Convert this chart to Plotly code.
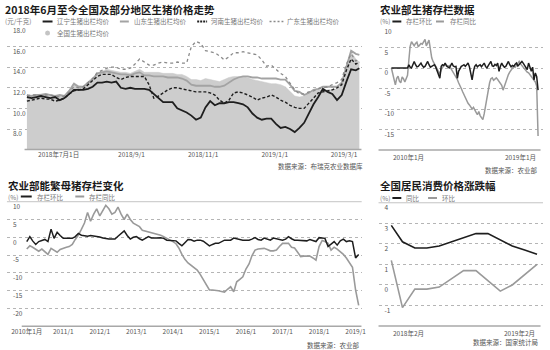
import pandas as pd
import plotly.graph_objects as go

W, H = 550, 350
FONT = "Noto Sans CJK SC"
BLACK = "#1e1e1e"
GRAY = "#9a9a9a"
GRID = "#b5b5b5"
AXIS = "#a8a8a8"
TXT = "#555555"

# ---------------- live hog prices (元/千克), Jun 2018 – Mar 2019 ----------------
price_dates = list(pd.date_range("2018-06-04", periods=71, freq="4D")) + [pd.Timestamp("2019-03-14")]
national = [11.3, 11.3, 11.3, 11.4, 11.4, 11.3, 11.3, 11.3, 11.3,
            11.8, 12.5, 12.2, 12.1, 12.6, 13.0, 13.4, 13.6, 13.8, 13.7, 13.6,
            13.5, 13.5, 13.4, 13.6, 13.8, 13.5, 13.5, 13.5, 13.5, 13.4, 13.4, 13.4, 13.3, 13.3, 13.1,
            12.8, 12.8, 12.7, 12.9, 12.8, 12.7, 12.6, 12.8, 13.0, 13.1, 13.1, 13.1, 13.0, 12.8, 12.7,
            12.6, 12.5, 12.4, 12.4, 12.3,
            12.1, 11.6, 11.2, 11.1, 11.2, 11.4, 11.7, 11.8, 11.8, 11.8, 11.8, 11.9, 12.3, 13.8, 15.5, 14.8, 14.5]
liaoning = [11.1, 11.0, 11.1, 11.2, 11.1, 11.0, 11.1, 10.8, 11.0,
            11.4, 11.8, 11.8, 11.8, 11.9, 12.1, 12.5, 12.5, 12.6, 12.5, 12.6,
            12.0, 11.9, 12.0, 11.9, 11.9, 11.9, 11.8, 11.4, 11.0, 10.6, 10.6, 10.6,
            10.0, 9.8, 9.6, 9.3, 8.9, 9.1, 10.1, 10.7, 10.3, 10.5, 10.5, 10.6, 10.6, 10.5, 10.4, 10.1, 9.5,
            9.1, 8.9, 9.0, 9.0, 8.5, 8.1, 8.2, 8.0, 7.7, 8.1, 8.6, 9.5, 10.4, 11.1, 11.9, 11.6, 11.4,
            10.8, 11.3, 12.6, 13.8, 13.7, 13.9]
shandong = [11.3, 11.2, 11.3, 11.3, 11.4, 11.3, 11.2, 11.3, 11.2,
            11.7, 12.4, 12.1, 12.1, 12.5, 12.8, 13.4, 13.5, 13.6, 13.5, 13.4,
            13.3, 13.3, 13.2, 13.4, 13.5, 13.2, 13.2, 13.1, 13.1, 13.1, 13.0, 13.0, 13.0, 12.9, 12.7,
            12.3, 12.2, 12.2, 12.2, 12.2, 12.1, 12.1, 12.2, 12.5, 12.8, 13.0, 13.1, 13.1, 13.0, 13.0,
            12.9, 12.9, 12.9, 12.9, 12.8,
            12.8, 12.3, 11.7, 11.6, 11.3, 11.5, 11.8, 11.9, 12.1, 12.1, 12.1, 12.1, 12.5, 14.0, 15.6, 15.3, 15.2]
henan = [10.7, 10.8, 10.9, 11.0, 10.9, 10.9, 10.7, 10.8, 11.0,
         11.4, 11.7, 11.8, 11.9, 12.3, 12.7, 13.1, 13.3, 13.3, 13.3, 13.0,
         12.8, 13.0, 13.1, 13.1, 13.1, 13.1, 12.3, 11.0, 11.2, 11.5, 11.8, 12.0, 12.0, 11.9, 11.8,
         11.7, 11.6, 11.6, 11.6, 11.5, 11.3, 10.8, 10.5, 10.8, 11.5,
         11.6, 11.5, 11.3, 11.1, 10.8, 11.0, 11.1, 11.3, 11.1, 10.8, 10.6, 10.3, 10.1, 10.0, 10.0,
         10.5, 11.1, 11.5, 11.6, 11.7, 11.8, 12.0, 12.3, 13.7, 14.8, 14.3, 14.5]
guangdong = [11.2, 11.3, 11.3, 11.2, 11.3, 11.3, 11.2, 11.1, 11.2,
             11.6, 12.1, 12.0, 12.1, 12.5, 12.9, 13.5, 13.7, 13.9, 14.0, 14.0,
             13.8, 13.8, 13.9, 14.3, 14.8, 14.5, 14.2, 14.2, 14.4, 14.5, 14.4, 14.4, 14.5, 14.4, 14.4,
             16.0, 16.5, 16.3, 15.6, 15.5, 15.4, 15.1, 14.7, 15.0, 15.4, 15.4, 15.5, 15.4, 15.3, 15.2,
             14.7, 14.1, 14.2, 13.8, 13.4,
             13.1, 12.4, 11.8, 11.4, 11.4, 11.6, 11.7, 11.9, 12.0, 12.1, 12.3, 12.5, 12.8, 14.3, 15.3, 14.6, 14.8]
price_tick_dates = ["2018-07-01", "2018-09-01", "2018-11-01", "2019-01-01", "2019-03-01"]
price_tick_text = ["2018年7月1日", "2018/9/1", "2018/11/1", "2019/1/1", "2019/3/1"]
price_y_ticks = [8, 10, 12, 14, 16, 18]

# ---------------- hog inventory (%), Jan 2010 – Feb 2019 ----------------
months = pd.date_range("2010-01-01", "2019-02-01", freq="MS")
hog_mom = [0, 0, 0, 0, 0, 0, 0, 0, 0, 0, 0, 0, 0,
           0.8, 0.2, 0.0, 1.0, 1.6, 0.8, 0.3, 0.4, 0.9, 1.2, 0.6, 0.2, 0.4, 1.0, 1.6, 0.8, 0.2,
           0.4, 0.6, 0.8, 0.2, -0.8, -1.5, -2.5, 0.4, 0.8, 0.6, 1.2, 0.5, 0.2, 0.0, 0.6, 1.2,
           0.5, 0.3, 0.4, -2.5, -0.8, 0.0, 0.4, 0.6, 0.8, 0.4, 0.9, 1.2, 0.3, -1.0, -2.9, -0.8,
           0.4, 0.8, 0.3, 0.6, 0.8, 0.3, 0.9, 1.2, 0.4, 0.0, 0.6, 1.0, 1.6, 0.5, 0.4, 0.9, 0.6,
           1.2, -0.8, 0.4, 1.2, 0.6, 0.2, 0.4, 1.0, 1.6, 0.8, 0.3, 0.6, 0.4, 0.9, 1.2, 0.5, 0.8,
           1.2, 1.6, 1.2, 0.6, 0.2, -0.4, 1.2, 0.3, -0.8, 0.2, -2.9, -1.2, -2.1, -5.4]
hog_yoy = [0.0, -1.5, -3.0, -4.1, -2.5, -2.0, -3.2, -3.6, -2.2, -2.6, -3.4, -2.8, -1.8,
           2.0, 5.3, 6.4, 5.8, 5.4, 6.0, 6.3, 5.2, 5.6, 6.0, 5.8, 6.4, 7.0, 5.4, 6.2, 6.8, 4.6,
           2.5, 1.6, 1.0, 0.6, 0.0, -0.8, -1.5, -0.4, 0.2, 0.6, 1.0, 0.8, 0.4, 0.6, 0.0, -0.4,
           -1.0, -1.4, -2.0, -2.8, -3.6, -4.2, -5.0, -5.8, -6.6, -7.2, -8.0, -8.6, -9.0, -9.4,
           -10.0, -9.6, -10.4, -10.8, -11.4, -10.6, -11.6, -12.0, -12.6, -11.2, -9.0, -7.2, -5.2,
           -3.6, -2.6, -2.4, -3.0, -2.6, -2.4, -2.8, -3.2, -3.6, -4.2, -5.4, -4.4, -3.0, -2.2,
           -1.6, -1.0, -0.6, 0.0, 0.4, 0.2, 0.6, 1.0, 1.6, 1.0, 0.6, 0.0, -0.4, -0.8, -1.0,
           -1.2, -1.6, -2.0, -2.4, -2.8, -3.4, -4.4, -16.6]
hog_y_ticks = [10, 5, 0, -5, -10, -15]

# ---------------- breeding sow inventory (%), Jan 2010 – Feb 2019 ----------------
sow_mom = [-1.2, 0.2, -1.0, -2.0, -1.2, -0.9, -0.6, -1.2, 2.3, -0.3, 1.4, 0.5, -0.3, -0.3,
           -0.3, -0.3, 0.2, 1.1, 0.6, 0.4, 0.3, 0.5, 0.4, 0.2, 0.1, -0.2, -0.4, -0.5, -0.5, -0.5,
           0.3, 1.0, 1.8, 0.5, -0.5, 0.0, 0.2, -0.4, -0.8, -0.3, 0.2, -0.2, -0.3, -0.2, -0.1,
           -0.3, -0.8, -0.8, -0.8, -1.0, -1.7, -2.4, -1.5, -0.6, -0.7, -1.1, -0.8, -0.8, -1.1,
           -1.8, -2.4, -2.0, -1.7, -1.7, -1.3, -0.8, -0.8, -0.8, -0.2, -0.4, -0.8, -0.8, -0.8,
           -0.8, -0.5, -0.1, -0.6, -0.8, -0.2, -0.5, -0.8, -0.2, -0.4, -0.8, -0.8, -0.5, 0.2,
           -0.4, -0.8, -0.8, -0.8, -0.9, -1.0, -0.6, -0.8, -1.2, -0.1, -0.1, -0.3, -2.6, -1.8,
           -1.2, -2.2, -1.0, -0.5, -1.2, -1.0, -1.2, -5.8, -4.8]
sow_yoy = [-3.3, -2.4, -2.8, -3.3, -3.9, -3.3, -4.0, -4.8, -3.1, -3.7, -4.2, -3.4, -3.0,
           -2.8, -2.6, -2.0, -0.6, 0.6, 2.2, 4.0, 7.0, 4.5, 6.5, 8.0, 6.0, 7.5, 9.0, 8.0, 6.5,
           7.0, 8.5, 6.5, 5.0, 6.5, 5.0, 4.0, 3.5, 3.0, 2.0, 1.8, 1.6, 1.4, 1.2, 0.8, 0.6, 0.2,
           -0.2, -0.6, -1.2, -1.8, -3.0, -4.8, -6.2, -7.2, -7.8, -8.4, -9.2, -10.4, -12.0,
           -13.4, -14.8, -14.8, -14.8, -15.0, -15.2, -15.4, -14.6, -13.9, -15.3, -12.5, -11.8,
           -11.1, -8.9, -7.5, -5.2, -3.6, -3.3, -3.2, -3.1, -3.4, -3.8, -3.8, -3.6, -2.6, -1.7,
           -1.7, -1.7, -2.8, -3.0, -4.2, -5.4, -5.3, -5.2, -5.3, -5.8, -6.4, -2.6, -0.9, -1.2,
           -1.7, -3.6, -2.8, -3.3, -4.0, -4.8, -5.8, -7.0, -8.4, -14.8, -19.1]
sow_tick_dates = [f"{y}-01-01" for y in range(2010, 2020)]
sow_tick_text = ["2010年1月"] + [f"{y}/1" for y in range(2011, 2020)]
sow_y_ticks = [10, 5, 0, -5, -10, -15, -20]

# ---------------- CPI (%), Feb 2018 – Feb 2019 ----------------
cpi_months = pd.date_range("2018-02-01", "2019-02-01", freq="MS")
cpi_yoy = [2.9, 2.1, 1.8, 1.8, 1.9, 2.1, 2.3, 2.5, 2.5, 2.2, 1.9, 1.7, 1.5]
cpi_mom = [1.2, -1.1, -0.2, -0.2, -0.1, 0.3, 0.7, 0.7, 0.2, -0.3, 0.0, 0.5, 1.0]
cpi_y_ticks = [4, 3, 2, 1, 0, -1]


def px(x):
    return x / W


def py(y):
    return 1 - y / H


fig = go.Figure()

# price panel
fig.add_trace(go.Scatter(x=price_dates, y=national, mode="lines", fill="tozeroy",
                         fillcolor="#cdcdcd", line=dict(color="#cdcdcd", width=0.5),
                         xaxis="x", yaxis="y"))
fig.add_trace(go.Scatter(x=price_dates, y=shandong, mode="lines",
                         line=dict(color="#a3a3a3", width=1.8), xaxis="x", yaxis="y"))
fig.add_trace(go.Scatter(x=price_dates, y=guangdong, mode="lines",
                         line=dict(color="#8a8a8a", width=1.3, dash="3px,3px"), xaxis="x", yaxis="y"))
fig.add_trace(go.Scatter(x=price_dates, y=henan, mode="lines",
                         line=dict(color=BLACK, width=1.4, dash="3px,2px"), xaxis="x", yaxis="y"))
fig.add_trace(go.Scatter(x=price_dates, y=liaoning, mode="lines",
                         line=dict(color=BLACK, width=1.8), xaxis="x", yaxis="y"))

# hog inventory panel
fig.add_trace(go.Scatter(x=months, y=hog_yoy, mode="lines",
                         line=dict(color=GRAY, width=1.5), xaxis="x2", yaxis="y2"))
fig.add_trace(go.Scatter(x=months, y=hog_mom, mode="lines",
                         line=dict(color=BLACK, width=1.5), xaxis="x2", yaxis="y2"))

# sow inventory panel
fig.add_trace(go.Scatter(x=months, y=sow_yoy, mode="lines",
                         line=dict(color=GRAY, width=1.6), xaxis="x3", yaxis="y3"))
fig.add_trace(go.Scatter(x=months, y=sow_mom, mode="lines",
                         line=dict(color=BLACK, width=1.5), xaxis="x3", yaxis="y3"))

# CPI panel
fig.add_trace(go.Scatter(x=cpi_months, y=cpi_mom, mode="lines",
                         line=dict(color=GRAY, width=1.6), xaxis="x4", yaxis="y4"))
fig.add_trace(go.Scatter(x=cpi_months, y=cpi_yoy, mode="lines",
                         line=dict(color=BLACK, width=1.6), xaxis="x4", yaxis="y4"))


def y_axis(anchor, top, bottom, rng, ticks, text, grid_vals):
    return dict(anchor=anchor, domain=[py(bottom), py(top)], range=rng,
                tickmode="array", tickvals=ticks, ticktext=text,
                ticklabelposition="inside", ticklabelshift=5, ticklabelstandoff=3,
                tickfont=dict(size=6.5, color=TXT, family=FONT),
                showgrid=False, zeroline=False, showline=False, ticks="",
                minor=dict(tickmode="array", tickvals=grid_vals, showgrid=True,
                           gridcolor=GRID, griddash="dot", gridwidth=1, ticks=""))


def x_axis(anchor, left, right, rng, ticks=None, text=None):
    ax = dict(anchor=anchor, domain=[px(left), px(right)], range=rng, type="date",
              showgrid=False, zeroline=False, showline=False, ticks="",
              tickfont=dict(size=6.5, color=TXT, family=FONT))
    if ticks is None:
        ax["showticklabels"] = False
    else:
        ax.update(tickmode="array", tickvals=ticks, ticktext=text)
    return ax


# value ranges are padded a little above the top tick so its label has room
layout = dict(
    width=W, height=H, margin=dict(l=0, r=0, t=0, b=0),
    paper_bgcolor="white", plot_bgcolor="white", showlegend=False,
    font=dict(family=FONT, color=TXT),
    xaxis=x_axis("y", 7, 365, ["2018-05-18", "2019-03-16"], price_tick_dates, price_tick_text),
    yaxis=y_axis("x", 19.8, 149.6, [6, 18.6], price_y_ticks, [f"{v:.1f}" for v in price_y_ticks],
                 [8, 10, 12, 14, 16]),
    xaxis2=x_axis("y2", 382, 548, ["2009-03-16", "2019-05-24"]),
    yaxis2=y_axis("x2", 20.85, 150, [-20, 11.5], hog_y_ticks, [str(v) for v in hog_y_ticks],
                  [5, 0, -5, -10, -15]),
    xaxis3=x_axis("y3", 7, 365, ["2009-06-17", "2019-03-03"], sow_tick_dates, sow_tick_text),
    yaxis3=y_axis("x3", 195.3, 326.3, [-25, 11.8], sow_y_ticks, [str(v) for v in sow_y_ticks],
                  [5, 0, -5, -10, -15, -20]),
    xaxis4=x_axis("y4", 382, 548, ["2017-12-31", "2019-02-16"]),
    yaxis4=y_axis("x4", 196.6, 326.1, [-2, 4.3], cpi_y_ticks, [str(v) for v in cpi_y_ticks],
                  [3, 2, 1, 0, -1]),
)
fig.update_layout(**layout)

shapes = []
annotations = []


def hline(xref, x0, x1, yref, y, color=AXIS, width=1.5, dash="solid"):
    shapes.append(dict(type="line", xref=xref, x0=x0, x1=x1, yref=yref, y0=y, y1=y,
                       line=dict(color=color, width=width, dash=dash)))


def text(x, y, s, size=6.5, color=TXT, anchor="left", bold=False):
    annotations.append(dict(xref="paper", yref="paper", x=px(x), y=py(y),
                            text=f"<b>{s}</b>" if bold else s, showarrow=False,
                            xanchor=anchor, yanchor="middle",
                            font=dict(size=size, color=color, family=FONT)))


def legend_line(x0, x1, y, color, width=2, dash="solid"):
    shapes.append(dict(type="line", xref="paper", yref="paper", x0=px(x0), x1=px(x1),
                       y0=py(y), y1=py(y), line=dict(color=color, width=width, dash=dash)))


# axis base lines
hline("x", "2018-06-02", "2019-03-16", "y domain", 0)
hline("x2 domain", 0, 0.985, "y2 domain", 0)
hline("x3", "2009-11-12", "2019-03-03", "y3 domain", 0)
hline("x4 domain", 0, 0.985, "y4 domain", 0)
# top rules of the lower panels
hline("x3 domain", 0, 1, "y3", 10, color="#c4c4c4", width=1)
hline("x4 domain", 0, 1, "y4", 4, color="#c4c4c4", width=1)

# titles
text(3, 9.5, "2018年6月至今全国及部分地区生猪价格走势", size=10.5, color="#1a1a1a", bold=True)
text(381, 9.5, "农业部生猪存栏数据", size=10.5, color="#1a1a1a", bold=True)
text(6, 185, "农业部能繁母猪存栏变化", size=10.5, color="#1a1a1a", bold=True)
text(381, 185, "全国居民消费价格涨跌幅", size=10.5, color="#1a1a1a", bold=True)

# price legend
text(3, 21.5, "(元/千克)", color="#777")
legend_line(43, 53, 21.5, BLACK)
text(56, 21.5, "辽宁生猪出栏均价", color="#777")
legend_line(121, 130, 21.5, "#a3a3a3")
text(133, 21.5, "山东生猪出栏均价", color="#777")
legend_line(199, 209, 21.5, BLACK, dash="2px,1px")
text(211, 21.5, "河南生猪出栏均价", color="#777")
legend_line(272, 286, 21.5, "#8a8a8a", width=1.5, dash="2px,2px")
text(288, 21.5, "广东生猪出栏均价", color="#777")
shapes.append(dict(type="circle", xref="paper", yref="paper",
                   x0=px(45.5), x1=px(50.5), y0=py(35.5), y1=py(30.5),
                   fillcolor="#c4c4c4", line=dict(width=0)))
text(55, 33, "全国生猪出栏均价", color="#777")

# hog legend
text(381, 21.5, "(%)", color="#777")
legend_line(396, 405, 21.5, BLACK)
text(408, 21.5, "存栏环比", color="#777")
legend_line(440, 448, 21.5, GRAY)
text(452, 21.5, "存栏同比", color="#777")

# sow legend
text(6, 196.5, "(%)", color="#777")
legend_line(21, 32, 196.5, BLACK)
text(35, 196.5, "存栏环比", color="#777")
legend_line(76, 85, 196.5, GRAY)
text(88, 196.5, "存栏同比", color="#777")

# cpi legend
text(381, 198, "(%)", color="#777")
legend_line(396, 405, 198, BLACK)
text(408, 198, "同比", color="#777")
legend_line(432, 441, 198, GRAY)
text(444, 198, "环比", color="#777")

# end labels of the right-hand time axes
for xref, xv, yv, s, anc in [("x2", months[0], 157, "2010年1月", "left"),
                             ("x2", months[-1], 157, "2019年1月", "right"),
                             ("x4", cpi_months[0], 333, "2018年2月", "left"),
                             ("x4", cpi_months[-1], 333, "2019年2月", "right")]:
    annotations.append(dict(xref=xref, yref="paper", x=xv, y=py(yv), text=s,
                            showarrow=False, xanchor=anc, yanchor="middle",
                            font=dict(size=6.5, color=TXT, family=FONT)))

# sources
text(368, 166, "数据来源：布瑞克农业数据库", anchor="right")
text(545, 170, "数据来源：农业部", anchor="right")
text(365, 345, "数据来源：农业部", anchor="right")
text(545, 342, "数据来源：国家统计局", anchor="right")

fig.update_layout(shapes=shapes, annotations=annotations)
fig.write_html("out.html")
